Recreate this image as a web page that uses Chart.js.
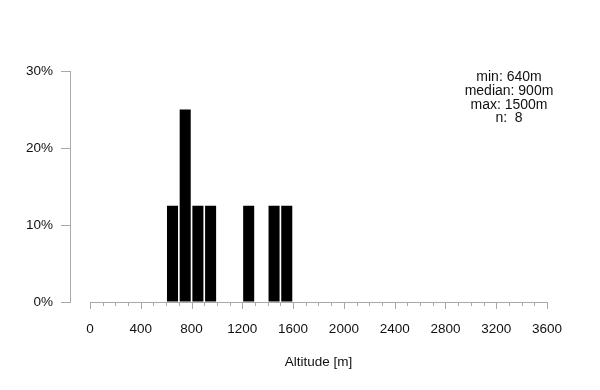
<!DOCTYPE html>
<html>
<head>
<meta charset="utf-8">
<script src="https://cdn.jsdelivr.net/npm/chart.js@4/dist/chart.umd.min.js"></script>
<style>
    html, body { margin: 0; padding: 0; background: #fff; }
    #wrap { width: 600px; height: 390px; }
</style>
</head>
<body>
<div id="wrap"><canvas id="altitudeChart"></canvas></div>
<script>
/* global Chart */
const binStarts = [600, 700, 800, 900, 1200, 1400, 1500];
const binWidth = 100;
const percents = [12.5, 25, 12.5, 12.5, 12.5, 12.5, 12.5];
const xLabelTicks = [0, 400, 800, 1200, 1600, 2000, 2400, 2800, 3200, 3600];
const yTicks = [0, 10, 20, 30];
const statLines = ['min: 640m', 'median: 900m', 'max: 1500m', 'n:  8'];
const axisTitle = 'Altitude [m]';

const fontFamily = "'Liberation Sans', Arial, sans-serif";
const axisGrey = '#a8a8a8';
const xFirst = xLabelTicks[0];
const xLast = xLabelTicks[xLabelTicks.length - 1];

// every 100 m gets a small tick, the labelled ones a longer one
const minorTicks = [];
for (let v = xFirst; v <= xLast; v += binWidth) minorTicks.push(v);

const rAxisPlugin = {
    id: 'rAxis',
    afterDraw(chart) {
        const {ctx, chartArea, scales: {x}} = chart;
        const y0 = chartArea.bottom;
        const left = x.getPixelForValue(xFirst);
        const right = x.getPixelForValue(xLast);
        ctx.save();
        ctx.strokeStyle = axisGrey;
        ctx.lineWidth = 1;
        ctx.beginPath();
        ctx.moveTo(left, y0 + 0.5);
        ctx.lineTo(right, y0 + 0.5);
        minorTicks.forEach(v => {
            const px = Math.round(x.getPixelForValue(v)) + 0.5;
            const len = xLabelTicks.includes(v) ? 7 : 4;
            ctx.moveTo(px, y0);
            ctx.lineTo(px, y0 + len);
        });
        ctx.stroke();

        ctx.fillStyle = '#111';
        ctx.font = '13.5px ' + fontFamily;
        ctx.textAlign = 'center';
        ctx.textBaseline = 'middle';
        ctx.fillText(axisTitle, (left + right) / 2, 362);

        ctx.font = '14px ' + fontFamily;
        statLines.forEach((line, i) => {
            ctx.fillText(line, 509, 77.5 + i * 13.7);
        });
        ctx.restore();
    }
};

new Chart(document.getElementById('altitudeChart'), {
    type: 'bar',
    data: {
        datasets: [{
            data: binStarts.map((s, i) => ({x: s + binWidth / 2, y: percents[i]})),
            backgroundColor: '#000',
            borderWidth: 0,
            barPercentage: 0.87,
            categoryPercentage: 1
        }]
    },
    options: {
        responsive: true,
        maintainAspectRatio: false,
        animation: false,
        layout: {padding: {top: 71, right: 53, left: 0, bottom: 0}},
        plugins: {
            legend: {display: false},
            tooltip: {enabled: false}
        },
        scales: {
            x: {
                type: 'linear',
                offset: false,
                min: -157.5,
                max: xLast,
                grid: {display: false, offset: false},
                border: {display: false},
                afterBuildTicks: scale => {
                    scale.ticks = minorTicks.map(v => ({value: v}));
                },
                afterFit: scale => { scale.height = 88; },
                ticks: {
                    autoSkip: false,
                    maxRotation: 0,
                    padding: 11,
                    color: '#111',
                    font: {family: fontFamily, size: 13.5},
                    callback: value => (xLabelTicks.includes(value) ? String(value) : '')
                }
            },
            y: {
                min: 0,
                max: 30,
                afterBuildTicks: scale => {
                    scale.ticks = yTicks.map(v => ({value: v}));
                },
                afterFit: scale => { scale.width = 70; },
                grid: {
                    drawOnChartArea: false,
                    tickLength: 9,
                    tickColor: axisGrey
                },
                border: {display: true, color: axisGrey, width: 1},
                ticks: {
                    padding: 8,
                    color: '#111',
                    font: {family: fontFamily, size: 13.5},
                    callback: value => value + '%'
                }
            }
        }
    },
    plugins: [rAxisPlugin]
});
</script>
</body>
</html>
